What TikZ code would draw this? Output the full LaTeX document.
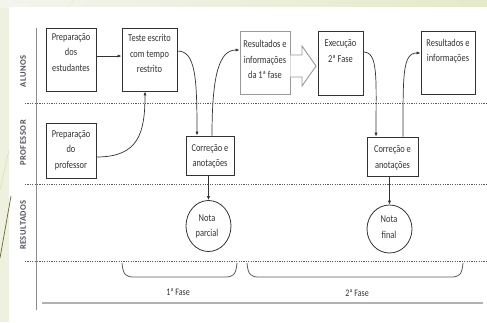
\documentclass[tikz,border=0pt]{standalone}
\usepackage{fontspec}
\setmainfont{Carlito}[FakeStretch=0.8]
\newfontfamily\lanefont{Carlito}[LetterSpace=6]
\usetikzlibrary{arrows.meta,shapes.geometric}
\definecolor{ink}{HTML}{333333}
\definecolor{lane}{HTML}{4F5060}
\definecolor{bgleft}{HTML}{EEF0E0}
\definecolor{bgtopl}{HTML}{F4F4EE}
\definecolor{bgtopr}{HTML}{E3EBC8}
\begin{document}
\begin{tikzpicture}[x=1pt,y=-1pt,
  box/.style={draw=ink,line width=0.9pt,fill=white,inner sep=0pt,rectangle},
  gbox/.style={box,draw=gray!80},
  txt/.style={font=\fontsize{10.5}{15.5}\selectfont,text=ink,align=center,inner sep=0pt},
  rnd/.style={draw=ink,line width=0.8pt,ellipse,inner sep=0pt},
  arr/.style={draw=ink,line width=0.7pt,-{Latex[length=4pt,width=3.2pt]}},
  lanelbl/.style={font=\lanefont\bfseries\fontsize{8.5}{9}\selectfont,text=lane,rotate=90,inner sep=0pt},
  sep/.style={draw=ink!80,line width=0.9pt,dash pattern=on 1.2pt off 1.2pt},
  fase/.style={font=\fontsize{10}{12}\selectfont,text=ink,inner sep=0pt},
  brace/.style={draw=ink!80,line width=0.8pt}]
\useasboundingbox (0,0) rectangle (487,322);
% slide background
\fill[bgleft] (0,0) rectangle (9,322);
\shade[left color=bgtopl,right color=bgtopr] (0,0) rectangle (487,7);
\fill[white] (9,7) rectangle (487,322);
\draw[olive!70!black,line width=0.7pt] (11,196) -- (0,258);
\draw[olive!25,line width=0.6pt] (9,150) -- (0,190);
\draw[white!85!olive,line width=0.6pt] (74,0) -- (68,7);
% lane structure
\draw[gray!90,line width=1pt] (36,28) -- (36,310);
\draw[sep] (25,103) -- (487,103);
\draw[sep] (25,184) -- (487,184);
\draw[sep] (25,261) -- (487,261);
\draw[gray!60,line width=1.6pt] (42,303) -- (483,303);
\node[lanelbl] (la) at (23,71) {ALUNOS};
\node[lanelbl] (lp) at (23,143) {PROFESSOR};
\node[lanelbl] (lr) at (23,225) {RESULTADOS};
% boxes
\node[box,minimum width=50pt,minimum height=63pt] (pe) at (71,59.5) {};
\node[box,minimum width=55pt,minimum height=63pt] (te) at (149.5,59.5) {};
\node[gbox,minimum width=50pt,minimum height=63pt] (r1) at (265,62.5) {};
\node[box,minimum width=45pt,minimum height=64pt] (ex) at (340.5,63) {};
\node[box,minimum width=54pt,minimum height=63pt] (r2) at (448,62.5) {};
\node[box,minimum width=50pt,minimum height=55pt] (pp) at (71,150.5) {};
\node[box,minimum width=48pt,minimum height=39pt] (c1) at (210,155.5) {};
\node[box,minimum width=51pt,minimum height=39pt] (c2) at (392.5,156.5) {};
\node[rnd,minimum width=45pt,minimum height=51pt] (n1) at (208.5,226) {};
\node[rnd,minimum width=45pt,minimum height=48pt] (n2) at (389.5,229) {};
% texts
\node[txt] (tpe) at (71,52.5) {Preparação\\dos\\estudantes};
\node[txt] (tte) at (149.5,53.5) {Teste escrito\\com tempo\\restrito};
\node[txt] (tr1) at (265,59.5) {Resultados e\\informações\\da 1ª fase};
\node[txt] (tex) at (340.5,51) {Execução\\2ª Fase};
\node[txt] (tr2) at (448,51) {Resultados e\\informações};
\node[txt] (tpp) at (71,150) {Preparação\\do\\professor};
\node[txt] (tc1) at (210,156.5) {Correção e\\anotações};
\node[txt] (tc2) at (392.5,158) {Correção e\\anotações};
\node[txt] (tn1) at (207,226.5) {Nota\\parcial};
\node[txt] (tn2) at (389,227) {Nota\\final};
% block arrow
\draw[gray!80,line width=0.9pt,fill=white]
  (r1.east |- 0,55) -- (302,55) -- (302,46) -- (316,66) -- (302,86) -- (302,77) -- (r1.east |- 0,77);
% connectors
\draw[arr] ([yshift=3.5pt]pe.east) -- ([yshift=3.5pt]te.west);
\draw[arr] ([yshift=8.5pt]te.east) .. controls +(18,0) and +(0,-58) .. ([xshift=-13pt]c1.north);
\draw[arr] ([xshift=2pt]c1.north) .. controls +(0,-62) and +(-20,0) .. ([yshift=12.5pt]r1.west);
\draw[arr] ([yshift=-6.5pt]pp.east) .. controls +(42,0) and +(0,42) .. ([xshift=-4.5pt]te.south);
\draw[arr] ([yshift=11pt]ex.east) .. controls +(15,0) and +(0,-58) .. ([xshift=-16.5pt]c2.north);
\draw[arr] ([xshift=10.5pt]c2.north) .. controls +(0,-62) and +(-18,0) .. ([yshift=9.5pt]r2.west);
\draw[arr] (c1.south -| n1.north) -- (n1.north);
\draw[arr] (c2.south -| n2.north) -- (n2.north);
% braces
\draw[brace] (122,263) .. controls (123,275) and (126,277) .. (134,277) -- (225,277) .. controls (233,277) and (236,275) .. (237,263);
\draw[brace] (247,263) .. controls (248,275) and (251,277) .. (259,277) -- (451,277) .. controls (459,277) and (462,275) .. (463,263);
\node[fase] (f1) at (178,292) {1ª Fase};
\node[fase] (f2) at (357,293) {2ª Fase};
\end{tikzpicture}
\end{document}
